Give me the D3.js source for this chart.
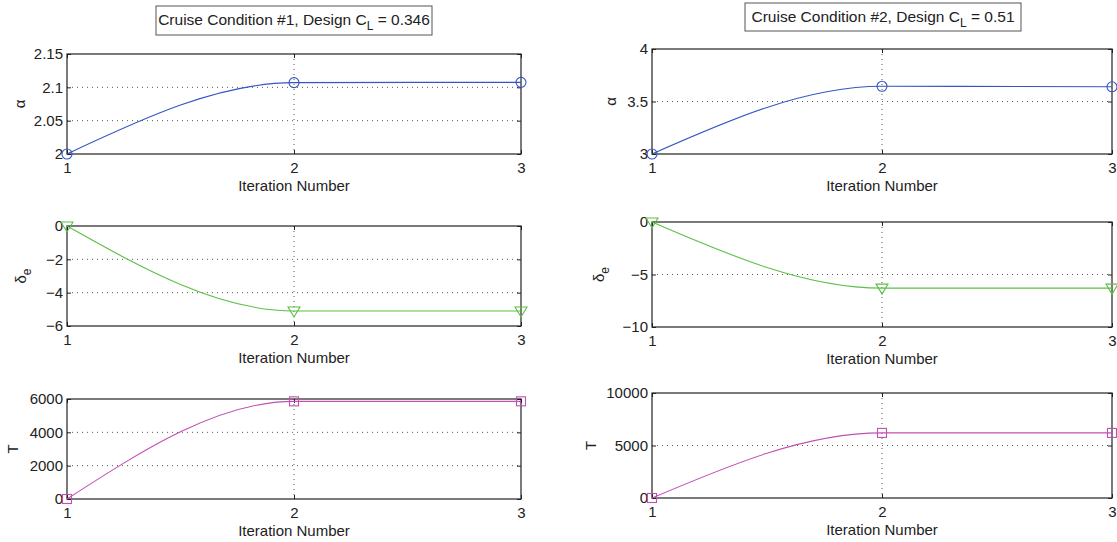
<!DOCTYPE html>
<html>
<head>
<meta charset="utf-8">
<script src="https://cdn.jsdelivr.net/npm/d3@7"></script>
<style>
  html, body { margin: 0; padding: 0; background: #fff; }
  svg { display: block; }
  text { font-family: "Liberation Sans", Arial, Helvetica, sans-serif; fill: #222; }
</style>
</head>
<body>
<script>
// ---------- data ----------
const iterations = [1, 2, 3];
const xTicks = [1, 2, 3];

const alpha1  = [2.0, 2.107, 2.1075];
const deltaE1 = [0, -5.1, -5.1];
const thrust1 = [0, 5860, 5860];

const alpha2  = [3.0, 3.645, 3.64];
const deltaE2 = [0, -6.3, -6.3];
const thrust2 = [0, 6200, 6200];

const alphaTicks1  = [2, 2.05, 2.1, 2.15];
const deltaTicks1  = [-6, -4, -2, 0];
const thrustTicks1 = [0, 2000, 4000, 6000];

const alphaTicks2  = [3, 3.5, 4];
const deltaTicks2  = [-10, -5, 0];
const thrustTicks2 = [0, 5000, 10000];

const titles = [
  { main: "Cruise Condition #1, Design C", sub: "L", tail: " = 0.346" },
  { main: "Cruise Condition #2, Design C", sub: "L", tail: " = 0.51" }
];

// ---------- styles / layout ----------
const W = 1117, H = 542;
const BLUE = "#3556c2", GREEN = "#5cbf45", MAGENTA = "#c24fb3";
const FS = 15;

const svg = d3.select("body").append("svg").attr("width", W).attr("height", H);

const panels = [
  { x0: 67, x1: 521, y0: 54,  y1: 154, data: alpha1,  ticks: alphaTicks1,  label: "alpha", color: BLUE,    marker: "circle",   lx: 25 },
  { x0: 67, x1: 521, y0: 226, y1: 326, data: deltaE1, ticks: deltaTicks1,  label: "delta", color: GREEN,   marker: "triangle", lx: 26 },
  { x0: 67, x1: 521, y0: 399, y1: 499, data: thrust1, ticks: thrustTicks1, label: "T",     color: MAGENTA, marker: "square",   lx: 18 },
  { x0: 652, x1: 1112, y0: 49,  y1: 154, data: alpha2,  ticks: alphaTicks2,  label: "alpha", color: BLUE,    marker: "circle",   lx: 616 },
  { x0: 652, x1: 1112, y0: 222, y1: 327, data: deltaE2, ticks: deltaTicks2,  label: "delta", color: GREEN,   marker: "triangle", lx: 604 },
  { x0: 652, x1: 1112, y0: 393, y1: 498, data: thrust2, ticks: thrustTicks2, label: "T",     color: MAGENTA, marker: "square",   lx: 596 }
];

const fmt = d => d3.format("")(d).replace("-", "\u2212");

panels.forEach(p => {
  const x = d3.scaleLinear().domain([1, 3]).range([p.x0, p.x1]);
  const y = d3.scaleLinear().domain(d3.extent(p.ticks)).range([p.y1, p.y0]);
  const g = svg.append("g");

  // grid
  g.selectAll(".gy").data(p.ticks.filter(t => t !== y.domain()[0] && t !== y.domain()[1]))
    .enter().append("line")
    .attr("x1", p.x0).attr("x2", p.x1)
    .attr("y1", d => y(d)).attr("y2", d => y(d))
    .attr("stroke", "#444").attr("stroke-width", 0.9).attr("stroke-dasharray", "1,4");
  g.selectAll(".gx").data(xTicks.filter(t => t !== 1 && t !== 3))
    .enter().append("line")
    .attr("x1", d => x(d)).attr("x2", d => x(d))
    .attr("y1", p.y0).attr("y2", p.y1)
    .attr("stroke", "#444").attr("stroke-width", 0.9).attr("stroke-dasharray", "1,4");

  // axes with inward ticks
  const axB = g.append("g").attr("transform", `translate(0,${p.y1})`)
    .call(d3.axisBottom(x).tickValues(xTicks).tickSizeInner(-4).tickSizeOuter(0).tickPadding(8).tickFormat(d3.format("d")));
  const axT = g.append("g").attr("transform", `translate(0,${p.y0})`)
    .call(d3.axisTop(x).tickValues(xTicks).tickSizeInner(-4).tickSizeOuter(0).tickFormat(""));
  const axL = g.append("g").attr("transform", `translate(${p.x0},0)`)
    .call(d3.axisLeft(y).tickValues(p.ticks).tickSizeInner(-4).tickSizeOuter(0).tickPadding(4).tickFormat(fmt));
  const axR = g.append("g").attr("transform", `translate(${p.x1},0)`)
    .call(d3.axisRight(y).tickValues(p.ticks).tickSizeInner(-4).tickSizeOuter(0).tickFormat(""));
  [axB, axT, axL, axR].forEach(a => {
    a.select(".domain").remove();
    a.selectAll("line").attr("stroke", "#222");
    a.selectAll("text").attr("font-size", FS).attr("fill", "#222")
      .style("font-family", '"Liberation Sans", Arial, sans-serif');
  });

  // box
  g.append("rect").attr("x", p.x0).attr("y", p.y0)
    .attr("width", p.x1 - p.x0).attr("height", p.y1 - p.y0)
    .attr("fill", "none").attr("stroke", "#222").attr("stroke-width", 1.2);

  // x label
  g.append("text").attr("x", (p.x0 + p.x1) / 2).attr("y", p.y1 + 37)
    .attr("text-anchor", "middle").attr("font-size", FS).text("Iteration Number");

  // y label
  const yl = g.append("text")
    .attr("transform", `translate(${p.lx},${(p.y0 + p.y1) / 2}) rotate(-90)`)
    .attr("text-anchor", "middle").attr("font-size", FS);
  if (p.label === "alpha") yl.text("\u03b1");
  else if (p.label === "delta") {
    yl.append("tspan").text("\u03b4");
    yl.append("tspan").attr("dy", 5).attr("font-size", 12).text("e");
  } else yl.text("T");

  // line
  const pts = iterations.map((it, i) => [it, p.data[i]]);
  const line = d3.line().x(d => x(d[0])).y(d => y(d[1])).curve(d3.curveMonotoneX);
  g.append("path").datum(pts).attr("d", line)
    .attr("fill", "none").attr("stroke", p.color).attr("stroke-width", 1.1);

  // markers
  const mk = g.selectAll(".mk").data(pts).enter();
  if (p.marker === "circle") {
    mk.append("circle").attr("cx", d => x(d[0])).attr("cy", d => y(d[1])).attr("r", 5)
      .attr("fill", "none").attr("stroke", p.color).attr("stroke-width", 1.1);
  } else if (p.marker === "triangle") {
    mk.append("path")
      .attr("d", d => { const cx = x(d[0]), cy = y(d[1]); return `M${cx - 6},${cy - 4}L${cx + 6},${cy - 4}L${cx},${cy + 6}Z`; })
      .attr("fill", "none").attr("stroke", p.color).attr("stroke-width", 1.1);
  } else {
    mk.append("rect").attr("x", d => x(d[0]) - 4.5).attr("y", d => y(d[1]) - 4.5)
      .attr("width", 9).attr("height", 9)
      .attr("fill", "none").attr("stroke", p.color).attr("stroke-width", 1.1);
  }
});

// titles
const titleBoxes = [
  { x: 156, y: 6, w: 276, h: 29, ty: 25 },
  { x: 745, y: 3, w: 276, h: 28, ty: 22 }
];
titleBoxes.forEach((b, i) => {
  const t = titles[i];
  svg.append("rect").attr("x", b.x).attr("y", b.y).attr("width", b.w).attr("height", b.h)
    .attr("fill", "#fff").attr("stroke", "#555").attr("stroke-width", 1);
  const tx = svg.append("text").attr("x", b.x + b.w / 2).attr("y", b.ty)
    .attr("text-anchor", "middle").attr("font-size", 15.5);
  tx.append("tspan").text(t.main);
  tx.append("tspan").attr("dy", 5).attr("font-size", 12).text(t.sub);
  tx.append("tspan").attr("dy", -5).text(t.tail);
});
</script>
</body>
</html>
